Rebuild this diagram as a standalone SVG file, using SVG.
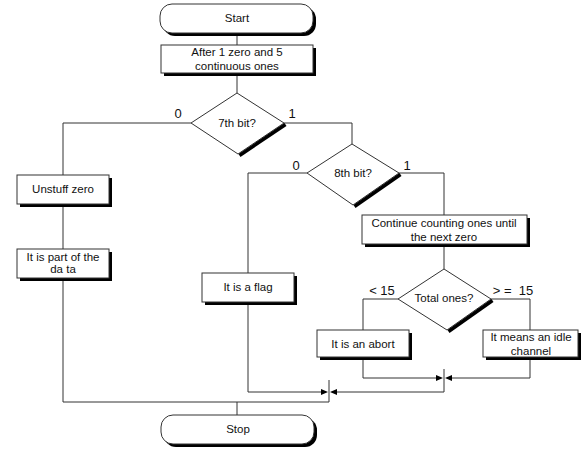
<svg xmlns="http://www.w3.org/2000/svg" width="587" height="451" viewBox="0 0 587 451">
<defs>
<style>
.bx{fill:#fff;stroke:#333;stroke-width:1}
.sh{fill:#000}
.ln{fill:none;stroke:#333;stroke-width:1}
.ds{fill:none;stroke:#000;stroke-width:3.5}
.t{font-family:"Liberation Sans",Arial,sans-serif;font-size:11.5px;fill:#111;text-anchor:middle}
.lb{font-family:"Liberation Sans",Arial,sans-serif;font-size:13px;fill:#111;text-anchor:middle;white-space:pre}
.ah{fill:#000}
</style>
</defs>
<rect width="587" height="451" fill="#fff"/>
<g id="connectors">
<path class="ln" d="M237,33V45 M237,73V93"/>
<path class="ln" d="M191,123H63V175 M63,204V249 M63,278V402H329"/>
<path class="ln" d="M284,123H352V144"/>
<path class="ln" d="M307,173H248V273 M248,302V392H322"/>
<path class="ln" d="M399,173H444V215 M444,244V269"/>
<path class="ln" d="M398,299H363V330 M491,299H530V330"/>
<path class="ln" d="M363,357V378H437 M530,357V378H451"/>
<path class="ln" d="M444,369V392H337 M329,380V402 M237,402V415"/>
<polygon class="ah" points="443,378 436,375 436,381"/>
<polygon class="ah" points="445,378 452,375 452,381"/>
<polygon class="ah" points="328,392 321,389 321,395"/>
<polygon class="ah" points="330,392 337,389 337,395"/>
<text class="lb" x="178" y="118">0</text>
<text class="lb" x="292" y="118">1</text>
<text class="lb" x="296" y="170">0</text>
<text class="lb" x="407" y="170">1</text>
<text class="lb" x="382" y="295" xml:space="preserve">&lt; 15</text>
<text class="lb" x="513" y="295" xml:space="preserve">&gt; =  15</text>
</g>
<g id="start">
<rect class="sh" x="163" y="7" width="153" height="29" rx="12"/>
<rect class="bx" x="160" y="4" width="153" height="29" rx="12"/>
<text class="t" x="237" y="22">Start</text>
</g>
<g id="after">
<rect class="sh" x="164" y="48" width="152" height="28"/>
<rect class="bx" x="161" y="45" width="152" height="28"/>
<text class="t" x="237" y="56">After 1 zero and 5</text>
<text class="t" x="237" y="70">continuous ones</text>
</g>
<g id="bit7">
<polygon class="bx" points="237,93 284,123 238,154 191,123"/>
<path class="ds" d="M285.5,124.5L239.5,155.5"/>
<text class="t" x="237" y="127">7th bit?</text>
</g>
<g id="bit8">
<polygon class="bx" points="352,144 399,173 353,205 307,173"/>
<path class="ds" d="M400.5,174.5L354.5,206.5"/>
<text class="t" x="353" y="177">8th bit?</text>
</g>
<g id="unstuff">
<rect class="sh" x="20" y="178" width="92" height="29"/>
<rect class="bx" x="17" y="175" width="92" height="29"/>
<text class="t" x="63" y="193">Unstuff zero</text>
</g>
<g id="partdata">
<rect class="sh" x="20" y="252" width="92" height="29"/>
<rect class="bx" x="17" y="249" width="92" height="29"/>
<text class="t" x="63" y="261">It is part of the</text>
<text class="t" x="63" y="273">da ta</text>
</g>
<g id="flag">
<rect class="sh" x="205" y="276" width="92" height="29"/>
<rect class="bx" x="202" y="273" width="92" height="29"/>
<text class="t" x="248" y="291">It is a flag</text>
</g>
<g id="continue">
<rect class="sh" x="365" y="218" width="165" height="29"/>
<rect class="bx" x="362" y="215" width="165" height="29"/>
<text class="t" x="444" y="227">Continue counting ones until</text>
<text class="t" x="444" y="241">the next zero</text>
</g>
<g id="total">
<polygon class="bx" points="444,269 491,299 447,330 398,299"/>
<path class="ds" d="M492.5,300.5L448.5,331.5"/>
<text class="t" x="444" y="302">Total ones?</text>
</g>
<g id="abort">
<rect class="sh" x="320" y="333" width="92" height="27"/>
<rect class="bx" x="317" y="330" width="92" height="27"/>
<text class="t" x="363" y="348">It is an abort</text>
</g>
<g id="idle">
<rect class="sh" x="486" y="333" width="95" height="27"/>
<rect class="bx" x="483" y="330" width="95" height="27"/>
<text class="t" x="531" y="341">It means an idle</text>
<text class="t" x="531" y="355">channel</text>
</g>
<g id="stop">
<rect class="sh" x="164" y="418" width="153" height="29" rx="12"/>
<rect class="bx" x="161" y="415" width="153" height="29" rx="12"/>
<text class="t" x="238" y="433">Stop</text>
</g>
</svg>
